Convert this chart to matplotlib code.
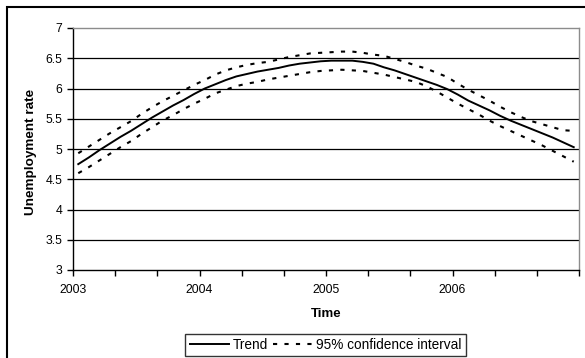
import numpy as np
import matplotlib
matplotlib.use("Agg")
import matplotlib.pyplot as plt
import matplotlib.transforms as mtransforms
from matplotlib.patches import Rectangle

plt.rcParams['font.family'] = ['Liberation Sans', 'DejaVu Sans']

# Monthly series, Jan 2003 .. Dec 2006
trend = [4.75, 4.86, 4.98, 5.09, 5.20, 5.30, 5.41, 5.52, 5.62, 5.72, 5.81, 5.91,
         6.00, 6.07, 6.14, 6.20, 6.24, 6.28, 6.31, 6.34, 6.38, 6.41, 6.43, 6.45,
         6.46, 6.46, 6.46, 6.44, 6.41, 6.35, 6.30, 6.24, 6.18, 6.12, 6.06, 5.99,
         5.90, 5.80, 5.72, 5.64, 5.55, 5.47, 5.40, 5.33, 5.26, 5.19, 5.11, 5.03]
upper = [4.93, 5.04, 5.15, 5.26, 5.36, 5.46, 5.58, 5.69, 5.79, 5.88, 5.97, 6.06,
         6.14, 6.23, 6.30, 6.35, 6.39, 6.42, 6.44, 6.48, 6.52, 6.55, 6.58, 6.59,
         6.60, 6.61, 6.61, 6.59, 6.56, 6.54, 6.49, 6.44, 6.38, 6.33, 6.26, 6.19,
         6.08, 5.98, 5.89, 5.80, 5.70, 5.61, 5.53, 5.46, 5.41, 5.36, 5.31, 5.30]
lower = [4.60, 4.70, 4.81, 4.92, 5.03, 5.13, 5.25, 5.36, 5.47, 5.56, 5.66, 5.75,
         5.83, 5.92, 5.98, 6.04, 6.08, 6.11, 6.15, 6.18, 6.21, 6.24, 6.27, 6.29,
         6.30, 6.31, 6.30, 6.29, 6.26, 6.23, 6.19, 6.15, 6.11, 6.04, 5.95, 5.85,
         5.75, 5.66, 5.57, 5.47, 5.38, 5.30, 5.22, 5.14, 5.06, 4.97, 4.88, 4.79]
months = np.arange(len(trend))
time = 2003 + (months + 0.5) / 12.0

year_labels = ['2003', '2004', '2005', '2006']
yticks = [3, 3.5, 4, 4.5, 5, 5.5, 6, 6.5, 7]
ytick_labels = ['3', '3.5', '4', '4.5', '5', '5.5', '6', '6.5', '7']

W, H = 585, 358
fig = plt.figure(figsize=(W / 100, H / 100), dpi=100)
ax = fig.add_axes([73 / W, (H - 270) / H, 506 / W, 242 / H])

# outer chart frame (only top and left visible in crop)
fig.patches.append(Rectangle((7 / W, -0.1), 1.2, (H - 7) / H + 0.1, transform=fig.transFigure,
                             fill=False, edgecolor='black', linewidth=1.5, zorder=0))

for y in yticks[1:-1]:
    ax.axhline(y, color='black', linewidth=0.9, zorder=1)

ax.plot(time, trend, color='black', linewidth=1.4, label='Trend', zorder=3)
ax.plot(time, upper, color='black', linewidth=1.5, dashes=(2, 3.5),
        label='95% confidence interval', zorder=3)
ax.plot(time, lower, color='black', linewidth=1.5, dashes=(2, 3.5), zorder=3)

ax.set_xlim(2003, 2007)
ax.set_ylim(3, 7)
ax.set_yticks(yticks)
ax.set_yticklabels(ytick_labels, fontsize=8.8)
xt = [2003 + k / 3 for k in range(13)]
ax.set_xticks(xt)
xl = []
for k in range(13):
    xl.append(year_labels[k // 3] if (k % 3 == 0 and k // 3 < 4) else '')
ax.set_xticklabels(xl, fontsize=8.8)
offset = mtransforms.ScaledTranslation(5.5 / 100, 0, fig.dpi_scale_trans)
for lab in ax.get_xticklabels():
    lab.set_transform(lab.get_transform() + offset)

ax.tick_params(axis='both', direction='out', length=4, width=1, color='black', labelcolor='black')
ax.tick_params(axis='x', pad=6)
ax.tick_params(axis='y', pad=3.5)

ax.spines['left'].set_color('black')
ax.spines['bottom'].set_color('black')
ax.spines['top'].set_color('#8c8c8c')
ax.spines['right'].set_color('#8c8c8c')
for s in ax.spines.values():
    s.set_linewidth(1.0)

fig.text(31 / W, 1 - 152 / H, 'Unemployment rate', rotation=90, ha='center', va='center',
         fontsize=9.7, fontweight='bold')
fig.text(326 / W, 1 - 314 / H, 'Time', ha='center', va='center',
         fontsize=9.5, fontweight='bold')

leg = fig.legend(loc='center', bbox_to_anchor=(325.5 / W, 1 - 345 / H), ncol=2,
                 fontsize=9.8, frameon=True, fancybox=False, edgecolor='black',
                 handlelength=2.9, columnspacing=0.4, handletextpad=0.25,
                 borderpad=0.32, borderaxespad=0)
leg.get_frame().set_linewidth(1.0)

fig.savefig('out.png', dpi=100)
